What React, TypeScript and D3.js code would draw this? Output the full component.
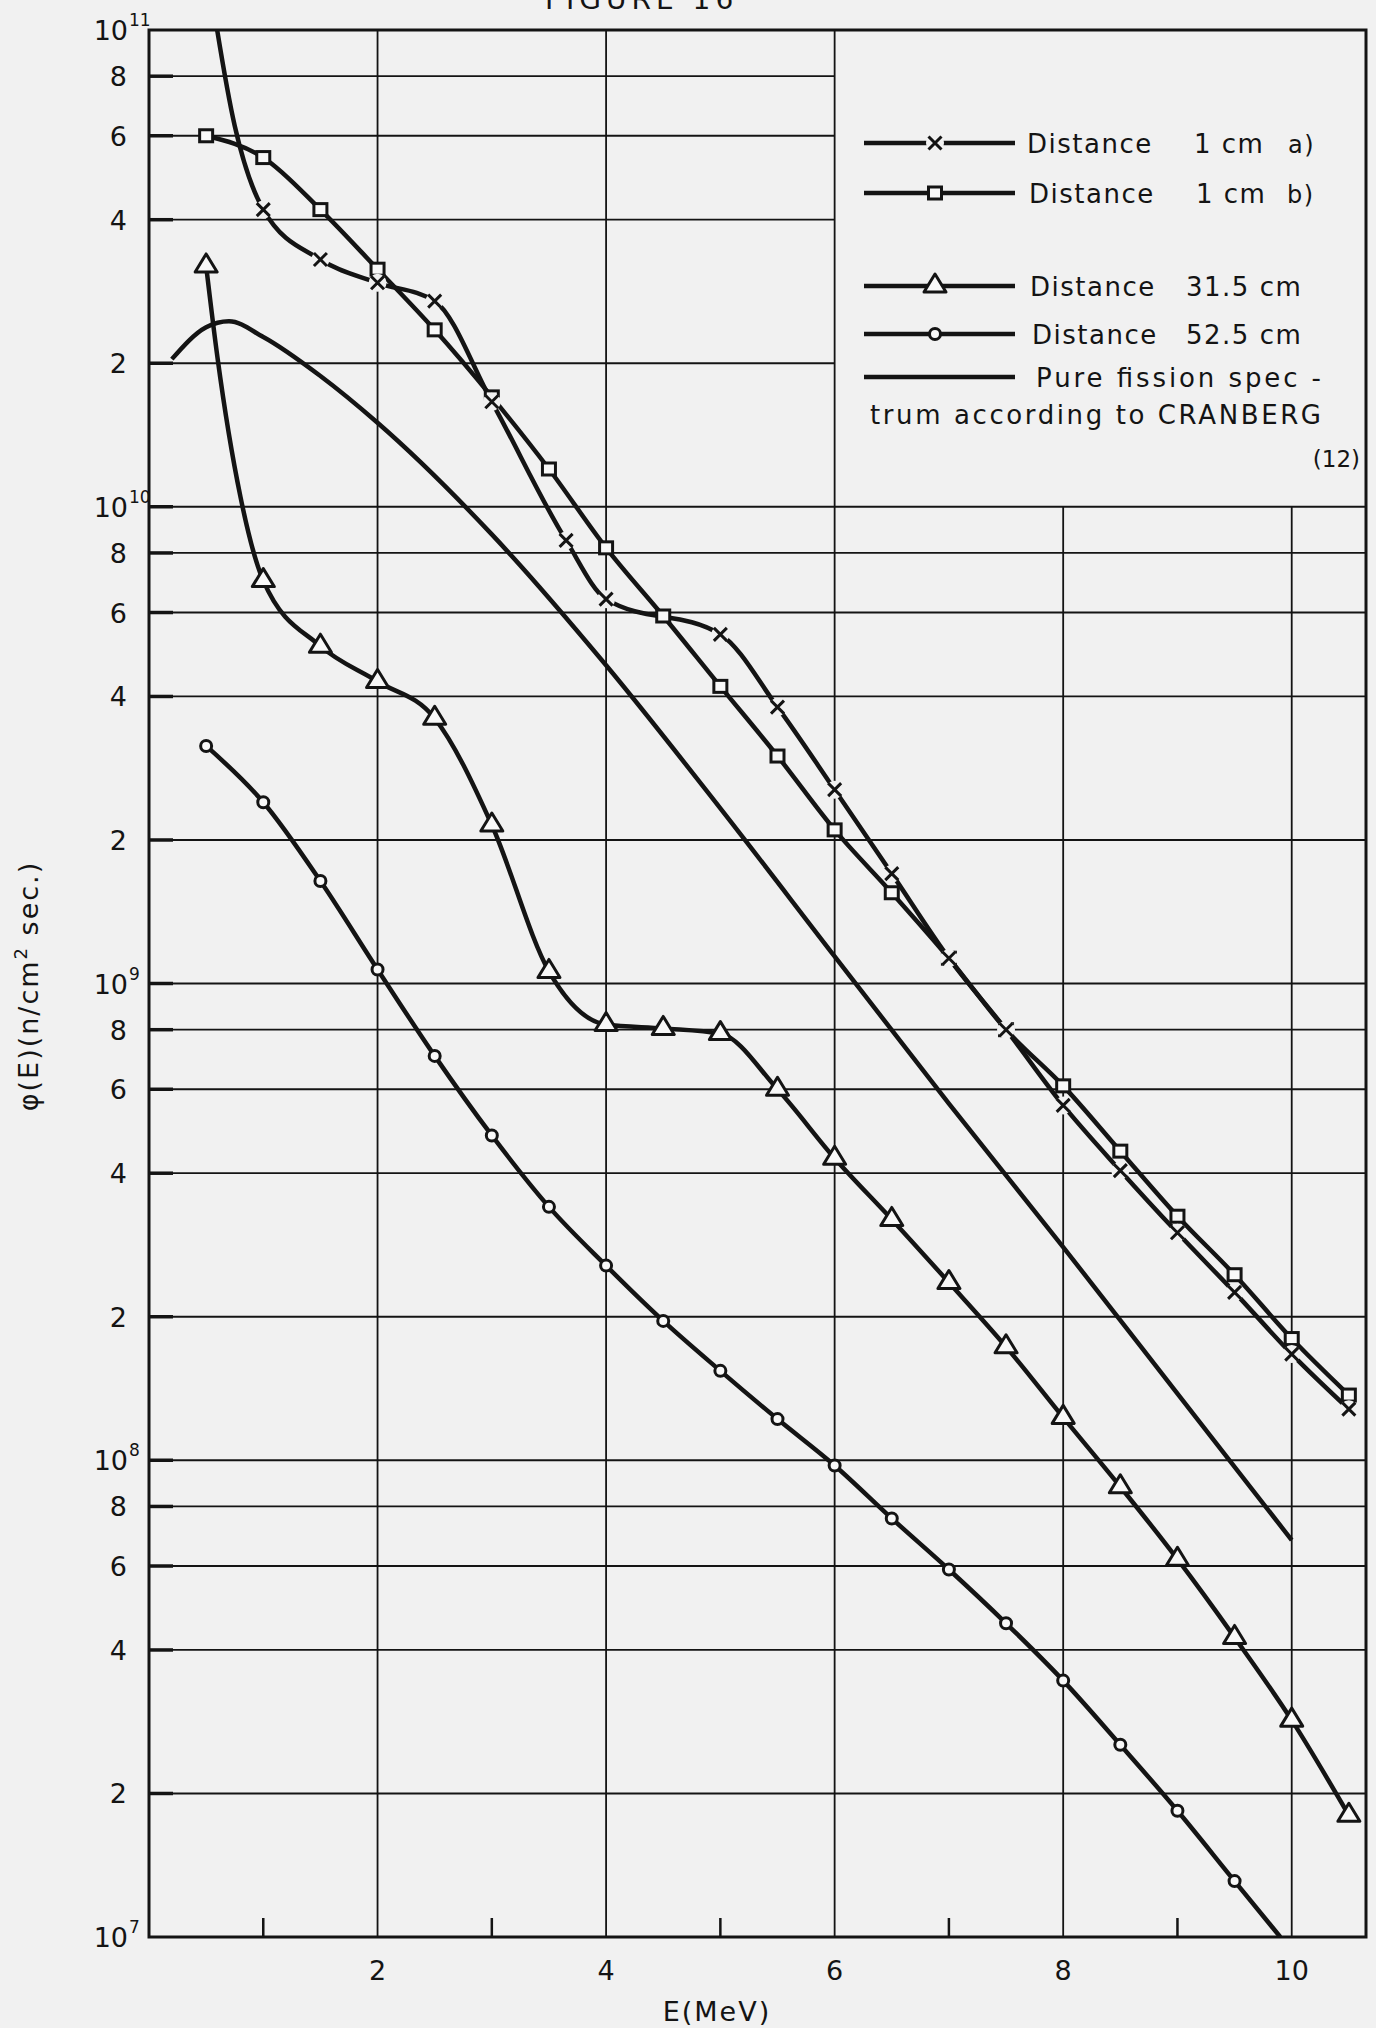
import React, { useEffect, useRef } from 'react';
import * as d3 from 'd3';

// E in MeV, flux phi(E) in n/cm2 sec
const distA1cm: [number, number][] = [
  [1, 4.2e10], [1.5, 3.3e10], [2, 2.95e10], [2.5, 2.7e10], [3, 1.66e10],
  [3.65, 8.5e9], [4, 6.4e9], [5, 5.4e9], [5.5, 3.8e9], [6, 2.55e9],
  [6.5, 1.7e9], [7, 1.13e9], [7.5, 8.0e8], [8, 5.55e8], [8.5, 4.05e8],
  [9, 3.0e8], [9.5, 2.25e8], [10, 1.67e8], [10.5, 1.28e8],
];
// unmarked part of curve a) running out of the top
const distA1cmTop: [number, number][] = [[0.5, 1.4e11], [0.75, 6.3e10]];

const distB1cm: [number, number][] = [
  [0.5, 6.0e10], [1, 5.4e10], [1.5, 4.2e10], [2, 3.15e10], [2.5, 2.35e10],
  [3, 1.7e10], [3.5, 1.2e10], [4, 8.2e9], [4.5, 5.9e9], [5, 4.2e9],
  [5.5, 3.0e9], [6, 2.1e9], [6.5, 1.55e9], [7, 1.13e9], [7.5, 8.0e8],
  [8, 6.1e8], [8.5, 4.45e8], [9, 3.25e8], [9.5, 2.45e8], [10, 1.8e8],
  [10.5, 1.37e8],
];

const dist315: [number, number][] = [
  [0.5, 3.2e10], [1, 7.0e9], [1.5, 5.1e9], [2, 4.3e9], [2.5, 3.6e9],
  [3, 2.15e9], [3.5, 1.06e9], [4, 8.2e8], [4.5, 8.05e8], [5, 7.85e8],
  [5.5, 6.0e8], [6, 4.3e8], [6.5, 3.2e8], [7, 2.36e8], [7.5, 1.73e8],
  [8, 1.23e8], [8.5, 8.8e7], [9, 6.2e7], [9.5, 4.25e7], [10, 2.85e7],
  [10.5, 1.8e7],
];
// bend of the 31.5 cm curve between the first two triangles
const dist315Bend: [number, number][] = [[0.6, 2.05e10], [0.8, 1.05e10]];

const dist525: [number, number][] = [
  [0.5, 3.15e9], [1, 2.4e9], [1.5, 1.64e9], [2, 1.07e9], [2.5, 7.05e8],
  [3, 4.8e8], [3.5, 3.4e8], [4, 2.56e8], [4.5, 1.96e8], [5, 1.54e8],
  [5.5, 1.22e8], [6, 9.75e7], [6.5, 7.55e7], [7, 5.9e7], [7.5, 4.55e7],
  [8, 3.45e7], [8.5, 2.53e7], [9, 1.84e7], [9.5, 1.31e7],
];
const dist525Tail: [number, number][] = [[9.9, 1.0e7]];

const cranberg: [number, number][] = [
  [0.2, 2.04e10], [0.5, 2.38e10], [0.7, 2.45e10], [1, 2.27e10], [1.5, 1.88e10],
  [2, 1.5e10], [3, 8.75e9], [4, 4.65e9], [5, 2.33e9], [6, 1.14e9],
  [7, 5.6e8], [8, 2.8e8], [9, 1.38e8], [10, 6.8e7],
];

const xTicks = [2, 4, 6, 8, 10];
const xMinorTicks = [1, 3, 5, 7, 9];
const decades = [7, 8, 9, 10, 11];
const mantissas = [2, 4, 6, 8];

const W = 1376;
const H = 2028;
const BG = '#f1f1f1';
const INK = '#141414';
const FONT = '"DejaVu Sans", sans-serif';

function drawChart(el: SVGSVGElement) {
  const svg = d3.select(el);
  svg.selectAll('*').remove();

  const x = d3.scaleLinear().domain([0, 10.65]).range([149, 1366]);
  const y = d3.scaleLog().domain([1e7, 1e11]).range([1937, 30]);
  const [x0, x1] = x.range();
  const [yb, yt] = y.range();

  svg.append('rect').attr('width', W).attr('height', H).attr('fill', BG);

  // title, cut off by the page edge as in the scan
  svg.append('text')
    .attr('x', 545).attr('y', 9)
    .attr('font-family', FONT).attr('font-size', 28)
    .attr('letter-spacing', 5).attr('fill', INK)
    .text('FIGURE 16');

  const grid = svg.append('g').attr('stroke', INK).attr('stroke-width', 1.8);

  // horizontal grid
  const hVals: number[] = [];
  decades.forEach((d) => {
    if (d > 7 && d < 11) hVals.push(Math.pow(10, d));
    if (d < 11) mantissas.forEach((m) => hVals.push(m * Math.pow(10, d)));
  });
  hVals.forEach((v) => {
    const inLegend = v > 1e10 * 1.01;
    grid.append('line')
      .attr('x1', x0).attr('x2', inLegend ? x(6) : x1)
      .attr('y1', y(v)).attr('y2', y(v));
    grid.append('line')
      .attr('x1', x0).attr('x2', x0 + 24)
      .attr('y1', y(v)).attr('y2', y(v))
      .attr('stroke-width', 3.5);
  });

  // vertical grid
  xTicks.forEach((t) => {
    grid.append('line')
      .attr('x1', x(t)).attr('x2', x(t))
      .attr('y1', yb).attr('y2', t > 6 ? y(1e10) : yt);
  });
  xMinorTicks.forEach((t) => {
    grid.append('line')
      .attr('x1', x(t)).attr('x2', x(t))
      .attr('y1', yb).attr('y2', yb - 19)
      .attr('stroke-width', 2.5);
  });

  // frame
  svg.append('rect')
    .attr('x', x0).attr('y', yt)
    .attr('width', x1 - x0).attr('height', yb - yt)
    .attr('fill', 'none').attr('stroke', INK).attr('stroke-width', 3);

  // y tick labels
  const yl = svg.append('g').attr('font-family', FONT).attr('fill', INK);
  decades.forEach((d) => {
    const t = yl.append('g').attr('transform', `translate(0,${y(Math.pow(10, d))})`);
    t.append('text').attr('x', 128).attr('y', 10)
      .attr('text-anchor', 'end').attr('font-size', 27).text('10');
    t.append('text').attr('x', 129).attr('y', -4)
      .attr('font-size', 17).text(String(d));
    if (d < 11) {
      mantissas.forEach((m) => {
        yl.append('text')
          .attr('x', 127).attr('y', y(m * Math.pow(10, d)) + 10)
          .attr('text-anchor', 'end').attr('font-size', 27)
          .text(String(m));
      });
    }
  });

  // x tick labels
  xTicks.forEach((t) => {
    svg.append('text')
      .attr('x', x(t)).attr('y', 1980)
      .attr('text-anchor', 'middle').attr('font-family', FONT)
      .attr('font-size', 27).attr('fill', INK)
      .text(String(t));
  });

  svg.append('text')
    .attr('x', 717).attr('y', 2021)
    .attr('text-anchor', 'middle').attr('font-family', FONT)
    .attr('font-size', 27).attr('letter-spacing', 2).attr('fill', INK)
    .text('E(MeV)');

  const yTitle = svg.append('text')
    .attr('transform', 'translate(38,986) rotate(-90)')
    .attr('text-anchor', 'middle').attr('font-family', FONT)
    .attr('font-size', 27).attr('letter-spacing', 2).attr('fill', INK);
  yTitle.append('tspan').text('φ(E)(n/cm');
  yTitle.append('tspan').attr('dy', -11).attr('font-size', 18).text('2');
  yTitle.append('tspan').attr('dy', 11).text(' sec.)');

  // curves
  svg.append('clipPath').attr('id', 'plot-clip')
    .append('rect').attr('x', x0).attr('y', yt)
    .attr('width', x1 - x0).attr('height', yb - yt);

  const line = d3.line<[number, number]>()
    .x((d) => x(d[0]))
    .y((d) => y(d[1]))
    .curve(d3.curveMonotoneX);

  const byE = (a: [number, number], b: [number, number]) => a[0] - b[0];
  const curves: [number, number][][] = [
    cranberg,
    [...distA1cmTop, ...distA1cm].sort(byE),
    distB1cm,
    [...dist315, ...dist315Bend].sort(byE),
    [...dist525, ...dist525Tail].sort(byE),
  ];

  const plot = svg.append('g').attr('clip-path', 'url(#plot-clip)');
  curves.forEach((c) => {
    plot.append('path')
      .attr('d', line(c))
      .attr('fill', 'none').attr('stroke', INK)
      .attr('stroke-width', 4.5).attr('stroke-linejoin', 'round');
  });

  // markers
  const marker = (g: any, kind: string) => {
    if (kind === 'cross') {
      g.append('circle').attr('r', 9).attr('fill', BG);
      g.append('path').attr('d', 'M-6.5,-6.5L6.5,6.5M-6.5,6.5L6.5,-6.5')
        .attr('stroke', INK).attr('stroke-width', 3);
    } else if (kind === 'square') {
      g.append('rect').attr('x', -6.5).attr('y', -6).attr('width', 13).attr('height', 12)
        .attr('fill', '#f8f8f8').attr('stroke', INK).attr('stroke-width', 3);
    } else if (kind === 'triangle') {
      g.append('path').attr('d', 'M0,-12L11,6L-11,6Z')
        .attr('fill', '#f8f8f8').attr('stroke', INK).attr('stroke-width', 3)
        .attr('stroke-linejoin', 'round');
    } else {
      g.append('circle').attr('r', 5.5)
        .attr('fill', '#f8f8f8').attr('stroke', INK).attr('stroke-width', 3);
    }
  };

  const markerSets: [[number, number][], string][] = [
    [distB1cm, 'square'],
    [distA1cm, 'cross'],
    [dist315, 'triangle'],
    [dist525, 'circle'],
  ];
  markerSets.forEach(([pts, kind]) => {
    pts.forEach((p) => {
      const g = plot.append('g').attr('transform', `translate(${x(p[0])},${y(p[1])})`);
      marker(g, kind);
    });
  });

  // legend
  const lg = svg.append('g').attr('font-family', FONT).attr('fill', INK).attr('font-size', 26);
  const rows: { yy: number; kind: string | null; parts: [number, string, number?][] }[] = [
    { yy: 143, kind: 'cross', parts: [[1027, 'Distance'], [1194, '1 cm'], [1288, 'a)', 24]] },
    { yy: 193, kind: 'square', parts: [[1029, 'Distance'], [1196, '1 cm'], [1287, 'b)', 24]] },
    { yy: 286, kind: 'triangle', parts: [[1030, 'Distance'], [1186, '31.5 cm']] },
    { yy: 334, kind: 'circle', parts: [[1032, 'Distance'], [1186, '52.5 cm']] },
    { yy: 377, kind: null, parts: [] },
  ];
  rows.forEach((r) => {
    lg.append('line')
      .attr('x1', 864).attr('x2', 1015)
      .attr('y1', r.yy).attr('y2', r.yy)
      .attr('stroke', INK).attr('stroke-width', 4.5);
    if (r.kind) {
      const g = lg.append('g').attr('transform', `translate(935,${r.yy})`);
      marker(g, r.kind);
    }
    r.parts.forEach(([px, txt, fs]) => {
      lg.append('text').attr('x', px).attr('y', r.yy + 10)
        .attr('letter-spacing', 1.5)
        .attr('font-size', fs || 26)
        .text(txt);
    });
  });
  lg.append('text').attr('x', 1036).attr('y', 387)
    .attr('textLength', 285).attr('lengthAdjust', 'spacing')
    .text('Pure fission spec -');
  lg.append('text').attr('x', 870).attr('y', 424)
    .attr('textLength', 451).attr('lengthAdjust', 'spacing')
    .text('trum according to CRANBERG');
  lg.append('text').attr('x', 1360).attr('y', 467)
    .attr('text-anchor', 'end').attr('font-size', 23)
    .text('(12)');
}

export default function App() {
  const ref = useRef<SVGSVGElement>(null);

  useEffect(() => {
    if (ref.current) drawChart(ref.current);
  }, []);

  return (
    <svg
      ref={ref}
      width={W}
      height={H}
      style={{ position: 'absolute', left: 0, top: 0, display: 'block' }}
    />
  );
}
